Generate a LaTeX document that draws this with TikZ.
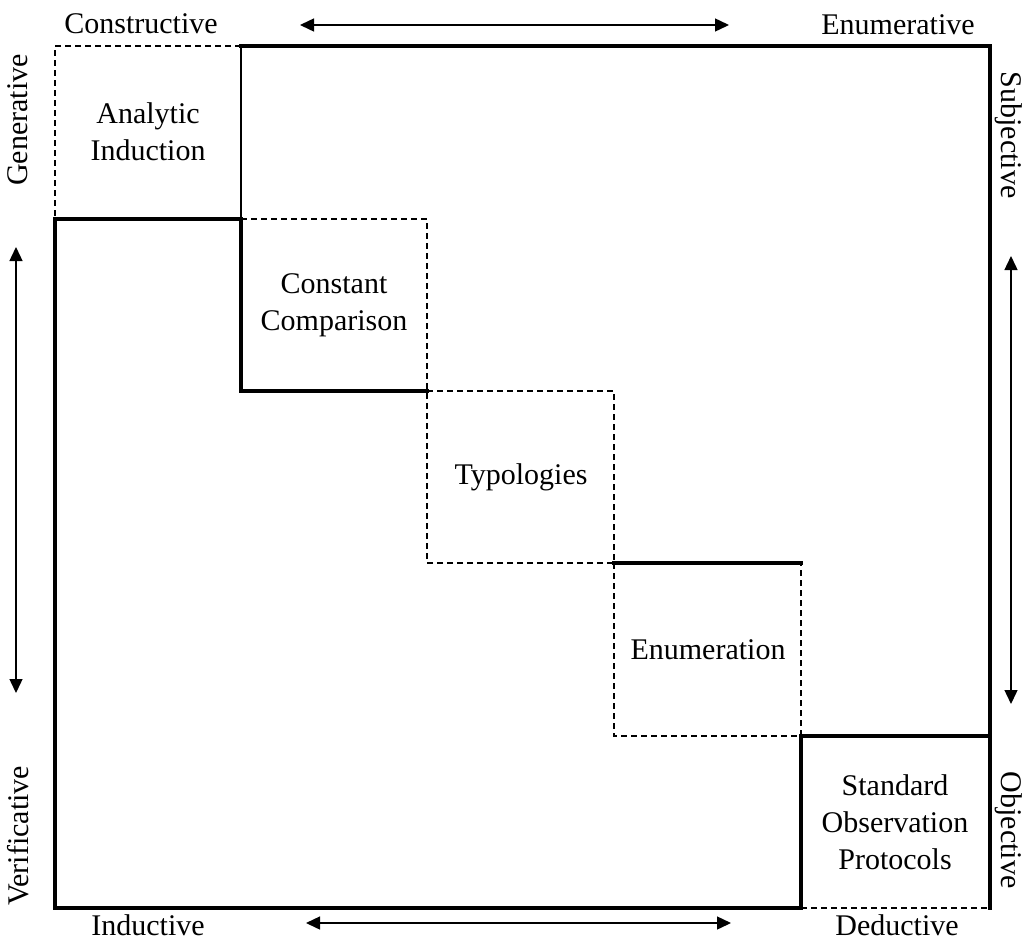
\documentclass[tikz,border=0pt]{standalone}
\usepackage{fontspec}
\setmainfont{Liberation Serif}
\usetikzlibrary{arrows.meta}
\begin{document}
\begin{tikzpicture}[x=1pt,y=-1pt,
  thickline/.style={line width=3.5pt,line cap=rect},
  thinline/.style={line width=1.3pt},
  dashline/.style={line width=1.4pt,dash pattern=on 6pt off 4pt},
  axisarrow/.style={line width=1.4pt,{Triangle[length=14pt,width=13pt]}-{Triangle[length=14pt,width=13pt]}},
  celltext/.style={align=center,font=\fontsize{30}{37}\selectfont},
  axislabel/.style={font=\fontsize{30}{32}\selectfont,inner sep=0pt}]
\useasboundingbox (0,0) rectangle (1025,940);

% grid corners of the staircase
\coordinate (x0y0) at (55,46);   \coordinate (x1y0) at (241,46);  \coordinate (x5y0) at (990,46);
\coordinate (x0y1) at (55,219);  \coordinate (x1y1) at (241,219); \coordinate (x2y1) at (427,219);
\coordinate (x1y2) at (241,391); \coordinate (x2y2) at (427,391); \coordinate (x3y2) at (614,391);
\coordinate (x2y3) at (427,563); \coordinate (x3y3) at (614,563); \coordinate (x4y3) at (801,563);
\coordinate (x3y4) at (614,736); \coordinate (x4y4) at (801,736); \coordinate (x5y4) at (990,736);
\coordinate (x0y5) at (55,908);  \coordinate (x4y5) at (801,908); \coordinate (x5y5) at (990,908);

% thick outline
\draw[thickline] (x0y1) -- (x0y5) -- (x4y5) -- (x4y4) -- (x5y4);
\draw[thickline] (x5y5) -- (x5y0) -- (x1y0);
\draw[thickline] (x0y1) -- (x1y1) -- (x1y2) -- (x2y2);
\draw[thickline] (x3y3) -- (x4y3);
\draw[thinline] (x1y0) -- (x1y1);

% dashed cell edges
\draw[dashline] (x1y0) -- (x0y0) -- (x0y1);
\draw[dashline] (x1y1) -- (x2y1) -- (x2y2);
\draw[dashline] (x2y2) -- (x3y2) -- (x3y3) -- (x2y3) -- (x2y2);
\draw[dashline] (x3y3) -- (x3y4) -- (x4y4) -- (x4y3);
\draw[dashline] (x4y5) -- (x5y5);

% cell labels
\node[celltext] (ai) at (148,132) {Analytic\\Induction};
\node[celltext] (cc) at (334,305) {Constant\\Comparison};
\node[celltext] (ty) at (521,477) {Typologies};
\node[celltext] (en) at (708,650) {Enumeration};
\node[celltext] (so) at (895,822) {Standard\\Observation\\Protocols};

% axis labels
\node[axislabel] (cons) at (141,24) {Constructive};
\node[axislabel] (enum) at (898,25) {Enumerative};
\node[axislabel] (indu) at (148,925) {Inductive};
\node[axislabel] (dedu) at (897,925) {Deductive};
\node[axislabel,rotate=90] (gene) at (18,120) {Generative};
\node[axislabel,rotate=90] (veri) at (18,836) {Verificative};
\node[axislabel,rotate=-90] (subj) at (1009,135) {Subjective};
\node[axislabel,rotate=-90] (obje) at (1009,830) {Objective};

% double-headed axis arrows
\coordinate (ta) at (300,25);  \coordinate (tb) at (729,25);
\coordinate (ba) at (306,923); \coordinate (bb) at (731,923);
\coordinate (la) at (16,247);  \coordinate (lb) at (16,693);
\coordinate (ra) at (1011,256); \coordinate (rb) at (1011,704);
\draw[axisarrow] (ta) -- (tb);
\draw[axisarrow] (ba) -- (bb);
\draw[axisarrow] (la) -- (lb);
\draw[axisarrow] (ra) -- (rb);
\end{tikzpicture}
\end{document}
